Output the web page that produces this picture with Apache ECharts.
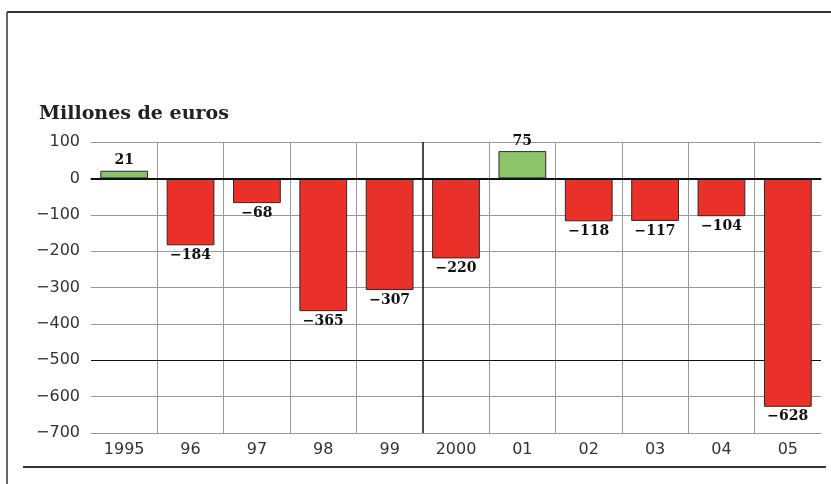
<!DOCTYPE html>
<html>
<head>
<meta charset="utf-8">
<script src="https://cdn.jsdelivr.net/npm/echarts@6/dist/echarts.min.js"></script>
<style>
html,body{margin:0;padding:0;background:#fff;}
#chart{width:831px;height:484px;}
</style>
</head>
<body>
<div id="chart"></div>
<script>
const categories = ['1995', '96', '97', '98', '99', '2000', '01', '02', '03', '04', '05'];
const values = [21, -184, -68, -365, -307, -220, 75, -118, -117, -104, -628];
const yTicks = { min: -700, max: 100, interval: 100 };
const unitTitle = 'Millones de euros';

const RED = '#ea3129';
const GREEN = '#8cc567';
const minus = v => String(v).replace('-', '\u2212');

// inner category boundaries (between consecutive categories)
const boundaries = categories.slice(1).map((c, i) => i + 1);
const decadeBoundary = categories.indexOf('2000');

const chart = echarts.init(document.getElementById('chart'), null, { renderer: 'canvas' });
chart.setOption({
  backgroundColor: '#ffffff',
  animation: false,
  title: {
    text: unitTitle,
    left: 34, top: 100,
    textStyle: { fontFamily: 'DejaVu Serif', fontSize: 19, fontWeight: 'bold', color: '#222' }
  },
  graphic: [
    { type: 'line', shape: { x1: 7, y1: 12, x2: 831, y2: 12 }, style: { stroke: '#333', lineWidth: 2 } },
    { type: 'line', shape: { x1: 7, y1: 12, x2: 7, y2: 484 }, style: { stroke: '#666', lineWidth: 2 } },
    { type: 'line', shape: { x1: 23, y1: 467, x2: 826, y2: 467 }, style: { stroke: '#333', lineWidth: 2 } }
  ],
  grid: { left: 91, right: 10, top: 142, bottom: 51, containLabel: false },
  xAxis: [{
    type: 'category',
    data: categories,
    axisLine: { show: true, lineStyle: { color: '#222', width: 1.5 } },
    axisTick: { show: false },
    axisLabel: { fontFamily: 'DejaVu Sans', fontSize: 16, color: '#333', margin: 9 },
    splitLine: { show: false }
  }, {
    type: 'value', min: 0, max: categories.length, show: false
  }],
  yAxis: {
    type: 'value',
    min: yTicks.min, max: yTicks.max, interval: yTicks.interval,
    axisLine: { show: false },
    axisTick: { show: false },
    axisLabel: { fontFamily: 'DejaVu Sans', fontSize: 16, color: '#333', margin: 11, formatter: minus },
    splitLine: { show: true, lineStyle: { color: '#999', width: 1 } }
  },
  series: [{
    type: 'bar',
    z: 3,
    barWidth: '72%',
    data: values.map(v => ({
      value: v,
      itemStyle: { color: v >= 0 ? GREEN : RED },
      label: { position: v >= 0 ? 'top' : 'bottom' }
    })),
    itemStyle: { borderColor: '#2a2a2a', borderWidth: 1 },
    label: {
      show: true, distance: 3,
      fontFamily: 'DejaVu Serif', fontWeight: 'bold', fontSize: 14, color: '#111',
      formatter: p => minus(p.value)
    },
    markLine: {
      silent: true, symbol: 'none', label: { show: false },
      lineStyle: { color: '#111', width: 2, type: 'solid' },
      data: [{ yAxis: 0 }]
    }
  }, {
    type: 'line', xAxisIndex: 1, data: [], z: 1,
    markLine: {
      z: 1,
      silent: true, symbol: 'none', label: { show: false },
      lineStyle: { color: '#999', width: 1, type: 'solid' },
      data: boundaries.map(b => (b === decadeBoundary
        ? { xAxis: b, lineStyle: { color: '#111', width: 1.5 } }
        : { xAxis: b }))
    }
  }, {
    type: 'line', data: [], z: 1,
    markLine: {
      z: 1,
      silent: true, symbol: 'none', label: { show: false },
      lineStyle: { color: '#111', width: 1.2, type: 'solid' },
      data: [{ yAxis: -500 }]
    }
  }]
});
</script>
</body>
</html>
